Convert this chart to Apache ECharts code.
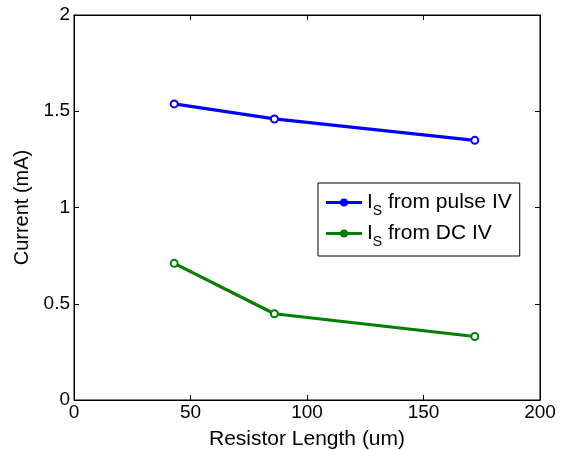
<!DOCTYPE html>
<html>
<head>
<meta charset="utf-8">
<script src="https://cdn.jsdelivr.net/npm/echarts@6/dist/echarts.min.js"></script>
<style>
  html, body { margin: 0; padding: 0; background: #fff; }
  #main { width: 567px; height: 450px; }
</style>
</head>
<body>
<div id="main"></div>
<script>
// resistor length (um)
const lengths = [43, 86, 172];
// saturation current (mA)
const pulseIV = [1.538, 1.46, 1.349];
const dcIV = [0.71, 0.448, 0.33];

const font = "Liberation Sans, Helvetica, Arial, sans-serif";

const pair = (xs, ys) => xs.map((x, i) => [x, ys[i]]);

// legend icon: line with a filled dot
const legendIcon =
  "path://M0,2.5 L36,2.5 L36,5.5 L0,5.5 Z M14,4 A4,4 0 1,1 22,4 A4,4 0 1,1 14,4 Z";

const chart = echarts.init(document.getElementById("main"));

const ticks = {
  show: true,
  inside: true,
  length: 5,
  lineStyle: { color: "#000", width: 1 },
};

const tickOnly = {
  axisLine: { show: true, onZero: false, lineStyle: { color: "#000", width: 1 } },
  axisTick: ticks,
  axisLabel: { show: false },
  splitLine: { show: false },
};

const option = {
  backgroundColor: "#fff",
  animation: false,
  textStyle: { fontFamily: font },
  grid: {
    left: 74, right: 27, top: 15, bottom: 50,
    containLabel: false, outerBoundsMode: "none",
    show: true, borderColor: "#000", borderWidth: 1,
  },
  xAxis: [
    {
      type: "value",
      min: 0,
      max: 200,
      interval: 50,
      name: "Resistor Length (um)",
      nameLocation: "middle",
      nameGap: 29,
      nameTextStyle: { color: "#000", fontSize: 21, fontFamily: font },
      axisLine: { show: true, onZero: false, lineStyle: { color: "#000", width: 1 } },
      axisTick: ticks,
      axisLabel: { color: "#000", fontSize: 19, fontFamily: font, margin: 3 },
      splitLine: { show: false },
    },
    Object.assign({ type: "value", min: 0, max: 200, interval: 50, position: "top" }, tickOnly),
  ],
  yAxis: [
    {
      type: "value",
      min: 0,
      max: 2,
      interval: 0.5,
      name: "Current (mA)",
      nameLocation: "middle",
      nameGap: 35,
      nameTextStyle: { color: "#000", fontSize: 20, fontFamily: font },
      axisLine: { show: true, onZero: false, lineStyle: { color: "#000", width: 1 } },
      axisTick: ticks,
      axisLabel: { color: "#000", fontSize: 19, fontFamily: font, margin: 4 },
      splitLine: { show: false },
    },
    Object.assign({ type: "value", min: 0, max: 2, interval: 0.5, position: "right" }, tickOnly),
  ],
  legend: {
    orient: "vertical",
    left: 318,
    top: 183,
    padding: [9, 8, 7, 8],
    itemGap: 5,
    itemWidth: 36,
    itemHeight: 8,
    backgroundColor: "#fff",
    borderColor: "#000",
    borderWidth: 1,
    borderRadius: 0,
    itemStyle: { borderWidth: 0 },
    data: [
      { name: "pulse", icon: legendIcon },
      { name: "dc", icon: legendIcon },
    ],
    formatter: function (name) {
      const label = name === "pulse" ? " from pulse IV" : " from DC IV";
      return "{a|I}{s|S}{a|" + label + "}";
    },
    textStyle: {
      color: "#000",
      fontFamily: font,
      rich: {
        a: { fontSize: 21, fontFamily: font, color: "#000", lineHeight: 31, verticalAlign: "middle" },
        s: { fontSize: 14, fontFamily: font, color: "#000", lineHeight: 9, verticalAlign: "bottom" },
      },
    },
  },
  series: [
    {
      name: "pulse",
      type: "line",
      data: pair(lengths, pulseIV),
      symbol: "emptyCircle",
      symbolSize: 7,
      color: "#0000ff",
      lineStyle: { width: 3.2, color: "#0000ff" },
      itemStyle: { color: "#0000ff", borderColor: "#0000ff", borderWidth: 2.8 },
    },
    {
      name: "dc",
      type: "line",
      data: pair(lengths, dcIV),
      symbol: "emptyCircle",
      symbolSize: 7,
      color: "#007f00",
      lineStyle: { width: 3.2, color: "#007f00" },
      itemStyle: { color: "#007f00", borderColor: "#007f00", borderWidth: 2.8 },
    },
    {
      // empty series so the top/right tick axes are drawn
      name: "frame",
      type: "line",
      xAxisIndex: 1,
      yAxisIndex: 1,
      data: [],
      silent: true,
    },
  ],
};

chart.setOption(option);
</script>
</body>
</html>
